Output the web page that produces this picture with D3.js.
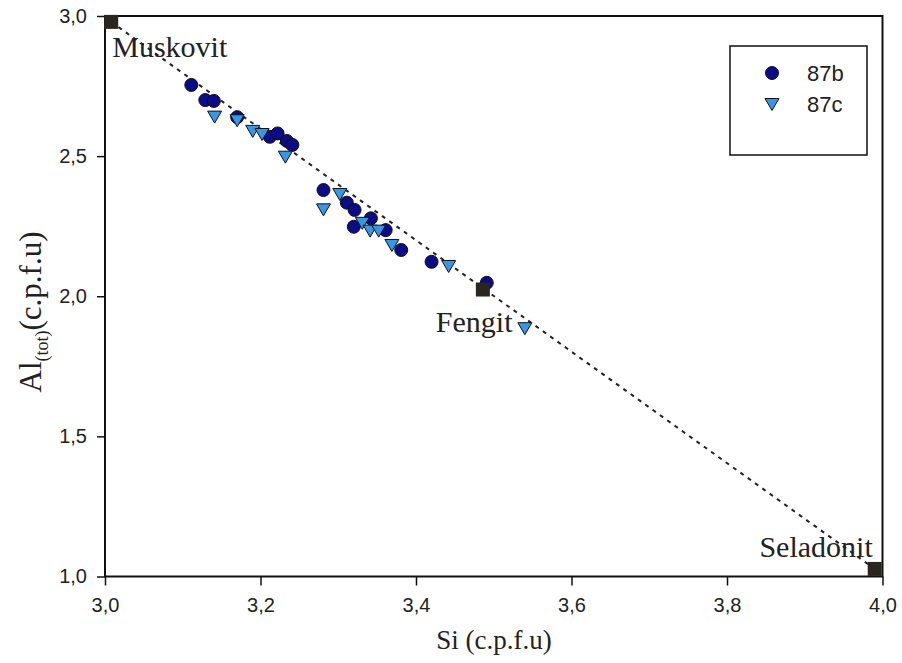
<!DOCTYPE html>
<html>
<head>
<meta charset="utf-8">
<script src="https://cdn.jsdelivr.net/npm/d3@7"></script>
<style>
  html, body { margin: 0; padding: 0; background: #ffffff; }
  svg { display: block; }
</style>
</head>
<body>
<svg id="chart" width="902" height="663"></svg>
<script>
// ---- Data ----
const xTicks = [3.0, 3.2, 3.4, 3.6, 3.8, 4.0];
const yTicks = [1.0, 1.5, 2.0, 2.5, 3.0];
const seriesNames = ["87b", "87c"];

const si87b = [3.111, 3.129, 3.140, 3.170, 3.212, 3.222, 3.234, 3.241, 3.281, 3.311, 3.321, 3.342, 3.320, 3.361, 3.381, 3.420, 3.491];
const al87b = [2.754, 2.700, 2.697, 2.639, 2.569, 2.581, 2.554, 2.540, 2.379, 2.334, 2.308, 2.278, 2.248, 2.236, 2.165, 2.123, 2.048];

const si87c = [3.141, 3.170, 3.190, 3.202, 3.232, 3.281, 3.302, 3.331, 3.341, 3.352, 3.369, 3.442, 3.540];
const al87c = [2.641, 2.628, 2.590, 2.579, 2.498, 2.310, 2.365, 2.262, 2.234, 2.234, 2.183, 2.108, 1.886];

const endNames = ["Muskovit", "Fengit", "Seladonit"];
const endSi = [3.008, 3.486, 3.990];
const endAl = [2.979, 2.024, 1.027];

// ---- Layout ----
const svg = d3.select("#chart");
const L = 105, R = 882.5, T = 16, B = 576.5;

const x = d3.scaleLinear().domain([3.0, 4.0]).range([L, R]);
const y = d3.scaleLinear().domain([1.0, 3.0]).range([B, T]);
const fmt = d => d3.format(".1f")(d).replace(".", ",");

// axes
const xAxis = svg.append("g").attr("transform", `translate(0,${B})`)
  .call(d3.axisBottom(x).tickValues(xTicks).tickSize(9).tickPadding(12).tickFormat(fmt));
const yAxis = svg.append("g").attr("transform", `translate(${L},0)`)
  .call(d3.axisLeft(y).tickValues(yTicks).tickSize(8).tickPadding(10).tickFormat(fmt));
[xAxis, yAxis].forEach(a => {
  a.select(".domain").remove();
  a.selectAll("line").attr("stroke", "#111").attr("stroke-width", 1.5);
  a.selectAll("text").attr("font-family", "Liberation Sans, Arial, sans-serif")
    .attr("font-size", 20).attr("fill", "#222");
});

// frame
svg.append("rect").attr("x", L).attr("y", T).attr("width", R - L).attr("height", B - T)
  .attr("fill", "none").attr("stroke", "#111").attr("stroke-width", 2);

// dotted trend line
svg.append("line")
  .attr("x1", x(endSi[0])).attr("y1", y(endAl[0]))
  .attr("x2", x(endSi[2])).attr("y2", y(endAl[2]))
  .attr("stroke", "#222").attr("stroke-width", 2).attr("stroke-dasharray", "4,5");

// series 87b circles
const circleFill = "#0c0c86", triFill = "#3796e6";
svg.append("g").selectAll("circle").data(d3.range(si87b.length)).join("circle")
  .attr("cx", i => x(si87b[i])).attr("cy", i => y(al87b[i])).attr("r", 6.5)
  .attr("fill", circleFill).attr("stroke", "#111").attr("stroke-width", 1);

// series 87c down-triangles
const tri = "M-7,-5.5L7,-5.5L0,6.5Z";
svg.append("g").selectAll("path").data(d3.range(si87c.length)).join("path")
  .attr("d", tri)
  .attr("transform", i => `translate(${x(si87c[i])},${y(al87c[i])})`)
  .attr("fill", triFill).attr("stroke", "#111").attr("stroke-width", 1);

// end-member squares
svg.append("g").selectAll("rect").data(d3.range(endNames.length)).join("rect")
  .attr("x", i => x(endSi[i]) - 7).attr("y", i => y(endAl[i]) - 7)
  .attr("width", 14).attr("height", 14).attr("fill", "#2b2520");

// end-member labels
const labelPos = [
  {dx: 1, dy: 35, anchor: "start"},
  {dx: -47, dy: 42, anchor: "start"},
  {dx: -2, dy: -12, anchor: "end"}
];
svg.append("g").selectAll("text").data(d3.range(endNames.length)).join("text")
  .attr("x", i => x(endSi[i]) + labelPos[i].dx)
  .attr("y", i => y(endAl[i]) + labelPos[i].dy)
  .attr("text-anchor", i => labelPos[i].anchor)
  .attr("font-family", "Liberation Serif, Times New Roman, serif")
  .attr("font-size", 30).attr("fill", "#222")
  .text(i => endNames[i]);

// axis titles
svg.append("text").attr("x", 494).attr("y", 649).attr("text-anchor", "middle")
  .attr("font-family", "Liberation Serif, Times New Roman, serif").attr("font-size", 27)
  .attr("fill", "#222").text("Si (c.p.f.u)");

const yt = svg.append("text").attr("transform", "translate(41,312) rotate(-90)")
  .attr("text-anchor", "middle")
  .attr("font-family", "Liberation Serif, Times New Roman, serif").attr("font-size", 31)
  .attr("fill", "#222");
yt.append("tspan").text("Al");
yt.append("tspan").attr("font-size", 18).attr("dy", 7).text("(tot)");
yt.append("tspan").attr("dy", -7).text("(c.p.f.u)");

// legend
const lg = svg.append("g");
lg.append("rect").attr("x", 730).attr("y", 46).attr("width", 137).attr("height", 109)
  .attr("fill", "#fff").attr("stroke", "#111").attr("stroke-width", 1.5);
const legY = [73, 104];
lg.append("circle").attr("cx", 772).attr("cy", legY[0]).attr("r", 6.5)
  .attr("fill", circleFill).attr("stroke", "#111").attr("stroke-width", 1);
lg.append("path").attr("d", tri).attr("transform", `translate(772,${legY[1]})`)
  .attr("fill", triFill).attr("stroke", "#111").attr("stroke-width", 1);
lg.selectAll("text.leg").data(seriesNames).join("text").attr("class", "leg")
  .attr("x", 807).attr("y", (d, i) => legY[i] + 8)
  .attr("font-family", "Liberation Sans, Arial, sans-serif").attr("font-size", 22)
  .attr("fill", "#222").text(d => d);
</script>
</body>
</html>
